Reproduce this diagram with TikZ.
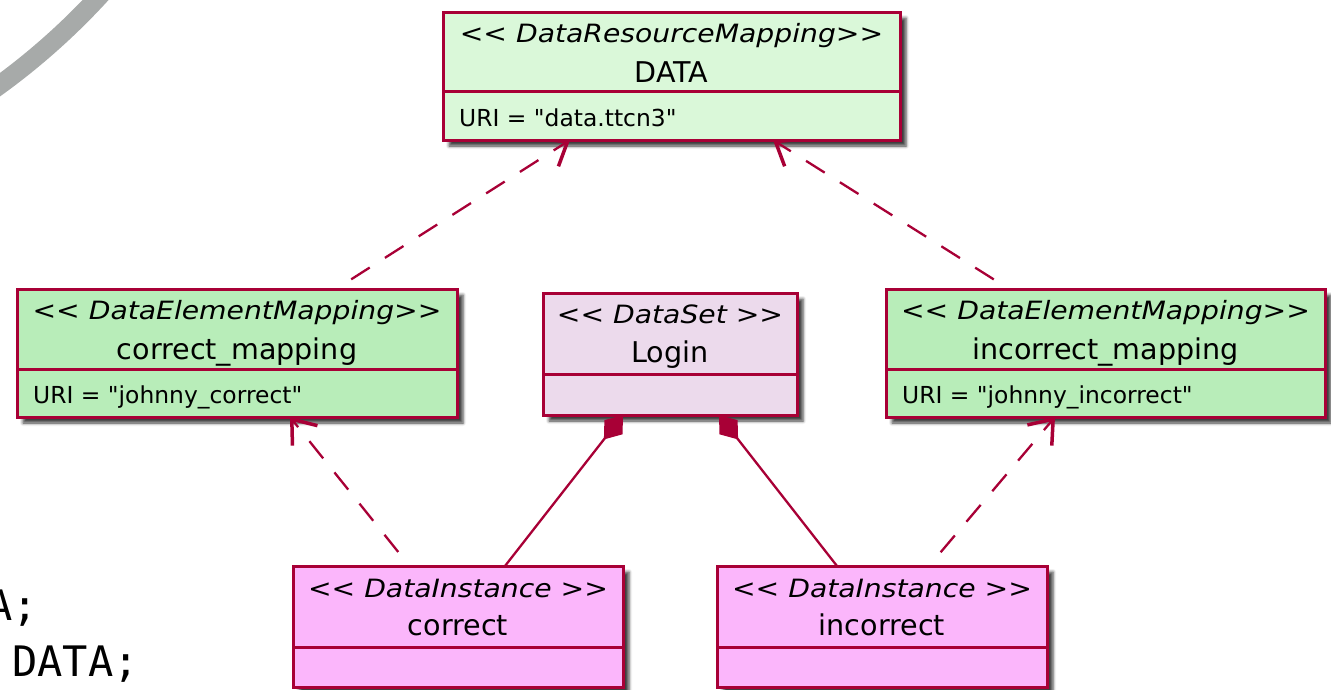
\documentclass[tikz,border=0pt]{standalone}
\usepackage{fontspec}
\setmainfont{DejaVu Sans}[Ligatures=TeXOff]
\newfontfamily\stereofont{DejaVu Sans}[FakeStretch=1.12, Ligatures=TeXOff]
\newfontfamily\codefont{DejaVu Sans Mono}
\usetikzlibrary{arrows.meta,calc,shadows.blur}

\definecolor{umlborder}{HTML}{A80036}
\definecolor{resfill}{HTML}{DAF8D9}
\definecolor{mapfill}{HTML}{B8EDB9}
\definecolor{setfill}{HTML}{ECDAEC}
\definecolor{instfill}{HTML}{FBB6FB}
\definecolor{ringgray}{HTML}{A7AAA9}

\pgfdeclarelayer{shadowlayer}
\pgfdeclarelayer{linklayer}
\pgfsetlayers{shadowlayer,linklayer,main}

\tikzset{
  classbox/.style={draw=umlborder, line width=3pt, rectangle, anchor=north west,
    inner sep=0pt, outer sep=0pt},
  stereo/.style={anchor=base, inner sep=0pt,
    font=\stereofont\itshape\fontsize{25.2}{30}\selectfont},
  classname/.style={anchor=base, inner sep=0pt, font=\fontsize{28.6}{34}\selectfont},
  field/.style={anchor=base west, inner sep=0pt, font=\fontsize{23.4}{28}\selectfont},
  divider/.style={draw=umlborder, line width=3pt},
  codetext/.style={anchor=base west, inner sep=0pt, text=black,
    font=\codefont\fontsize{42}{50}\selectfont},
  boxshadow/.style={blur shadow={shadow xshift=6pt, shadow yshift=-6pt,
    shadow blur radius=3pt, shadow opacity=75}},
  dep/.style={draw=umlborder, line width=2.3pt, dash pattern=on 22pt off 18pt,
    dash phase=22pt, -{Straight Barb[length=21pt,width=32pt,line width=3.5pt]}},
  compo/.style={draw=umlborder, line width=2.3pt, {Diamond[length=31pt,width=23pt]}-},
}

\begin{document}
\begin{tikzpicture}[x=1pt,y=-1pt]
\useasboundingbox (0,0) rectangle (1331,689);

% ring in the corner
\draw[ringgray, line width=19pt] (-400.9,-464.6) circle[radius=680];

% code fragment on the left
\node[codetext] (code1) at (-13,620) {A;};
\node[codetext] (code2) at (12,676) {DATA;};

% DATA resource mapping
\node[classbox, fill=resfill, minimum width=457pt, minimum height=128pt] (data) at (443,12) {};
\node[stereo] (data-st) at ($(data.north)+(0,30)$) {<{}< DataResourceMapping>{}>};
\node[classname] (data-nm) at ($(data.north)+(0,70)$) {DATA};
\draw[divider] ($(data.north west)+(0,79)$) -- ($(data.north east)+(0,79)$);
\node[field] (data-uri) at ($(data.north west)+(16,114)$) {URI = "data.ttcn3"};

% correct_mapping
\node[classbox, fill=mapfill, minimum width=440pt, minimum height=128pt] (cmap) at (17,289) {};
\node[stereo] (cmap-st) at ($(cmap.north)+(0,30)$) {<{}< DataElementMapping>{}>};
\node[classname] (cmap-nm) at ($(cmap.north)+(0,70)$) {correct\_mapping};
\draw[divider] ($(cmap.north west)+(0,80)$) -- ($(cmap.north east)+(0,80)$);
\node[field] (cmap-uri) at ($(cmap.north west)+(16,114)$) {URI = "johnny\_correct"};

% incorrect_mapping
\node[classbox, fill=mapfill, minimum width=439pt, minimum height=128pt] (imap) at (886,289) {};
\node[stereo] (imap-st) at ($(imap.north)+(0,30)$) {<{}< DataElementMapping>{}>};
\node[classname] (imap-nm) at ($(imap.north)+(0,70)$) {incorrect\_mapping};
\draw[divider] ($(imap.north west)+(0,80)$) -- ($(imap.north east)+(0,80)$);
\node[field] (imap-uri) at ($(imap.north west)+(16,114)$) {URI = "johnny\_incorrect"};

% Login data set
\node[classbox, fill=setfill, minimum width=254pt, minimum height=122pt] (login) at (543,293) {};
\node[stereo] (login-st) at ($(login.north)+(0,30)$) {<{}< DataSet >{}>};
\node[classname] (login-nm) at ($(login.north)+(0,69)$) {Login};
\draw[divider] ($(login.north west)+(0,81)$) -- ($(login.north east)+(0,81)$);

% data instances
\node[classbox, fill=instfill, minimum width=330pt, minimum height=121pt] (cinst) at (293,566) {};
\node[stereo] (cinst-st) at ($(cinst.north)+(0,31)$) {<{}< DataInstance >{}>};
\node[classname] (cinst-nm) at ($(cinst.north)+(0,69)$) {correct};
\draw[divider] ($(cinst.north west)+(0,81)$) -- ($(cinst.north east)+(0,81)$);

\node[classbox, fill=instfill, minimum width=330pt, minimum height=121pt] (iinst) at (717,566) {};
\node[stereo] (iinst-st) at ($(iinst.north)+(0,31)$) {<{}< DataInstance >{}>};
\node[classname] (iinst-nm) at ($(iinst.north)+(0,69)$) {incorrect};
\draw[divider] ($(iinst.north west)+(0,81)$) -- ($(iinst.north east)+(0,81)$);

% drop shadows behind the boxes
\begin{pgfonlayer}{shadowlayer}
  \foreach \b in {data,cmap,imap,login,cinst,iinst}
    \path[boxshadow] (\b.north west) rectangle (\b.south east);
\end{pgfonlayer}

% relations
\begin{pgfonlayer}{linklayer}
  \draw[dep] ($(cinst.north west)+(116.5,0)$) -- ($(cmap.south west)+(273,0)$);
  \draw[dep] ($(cmap.north west)+(319,0)$) -- ($(data.south west)+(127,0)$);
  \draw[dep] ($(imap.north west)+(123,0)$) -- ($(data.south west)+(330,0)$);
  \draw[dep] ($(iinst.north west)+(212,0)$) -- ($(imap.south west)+(169,0)$);
  \draw[compo] ($(login.south west)+(80,0)$) -- ($(cinst.north west)+(212,0)$);
  \draw[compo] ($(login.south west)+(176,0)$) -- ($(iinst.north west)+(120,0)$);
\end{pgfonlayer}
\end{tikzpicture}
\end{document}
